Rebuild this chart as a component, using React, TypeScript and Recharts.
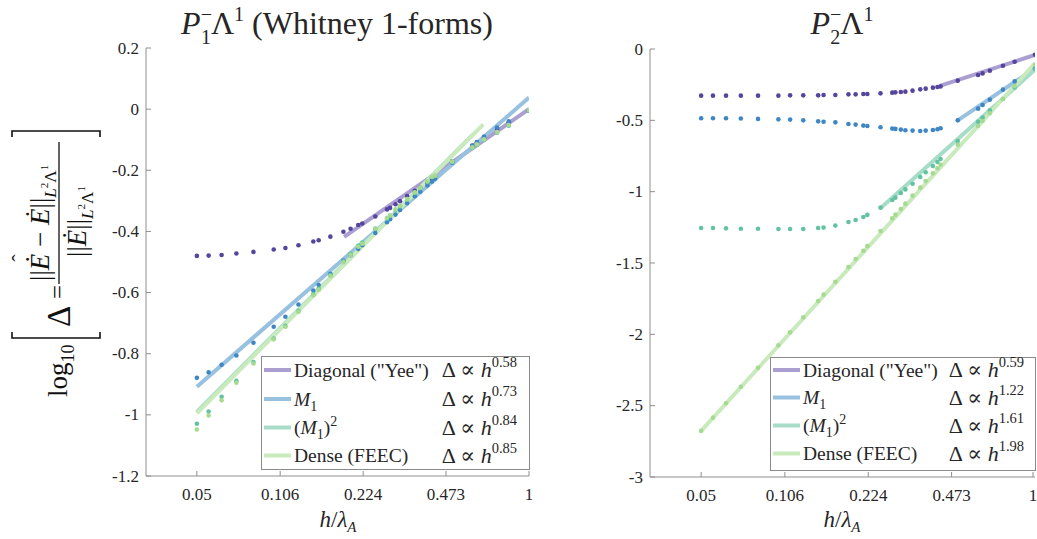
import React from "react";
import { ComposedChart, Line, Scatter, XAxis, YAxis } from "recharts";

const FONT = '"Liberation Serif", "DejaVu Serif", serif';
const AXIS = "#8f8f8f";
const INK = "#262626";

// mesh sizes h / lambda_A (shared by all series)
const hValues = [
  0.05, 0.0556, 0.0625, 0.0714, 0.0833, 0.1, 0.1111, 0.125, 0.1429, 0.15, 0.1667,
  0.1875, 0.2, 0.2143, 0.2222, 0.25, 0.2778, 0.2857, 0.3, 0.3125, 0.3333, 0.3571,
  0.375, 0.4, 0.4167, 0.4286, 0.5, 0.6, 0.625, 0.6667, 0.75, 0.8333, 1,
];

const xTicks = [0.05, 0.106, 0.224, 0.473, 1];
const leftYTicks = [-1.2, -1, -0.8, -0.6, -0.4, -0.2, 0, 0.2];
const rightYTicks = [-3, -2.5, -2, -1.5, -1, -0.5, 0];

// P1- Lambda1 (Whitney 1-forms)
const leftYee = [
  -0.48, -0.479, -0.477, -0.472, -0.467, -0.459, -0.454, -0.445, -0.433, -0.429, -0.417,
  -0.401, -0.391, -0.379, -0.374, -0.351, -0.328, -0.323, -0.311, -0.301, -0.284, -0.267,
  -0.257, -0.241, -0.228, -0.219, -0.171, -0.119, -0.109, -0.094, -0.065, -0.044, -0.003,
];
const leftM1 = [
  -0.879, -0.861, -0.836, -0.806, -0.764, -0.712, -0.679, -0.639, -0.593, -0.575, -0.539,
  -0.495, -0.478, -0.457, -0.445, -0.405, -0.37, -0.36, -0.345, -0.33, -0.308, -0.285,
  -0.27, -0.25, -0.237, -0.228, -0.175, -0.12, -0.108, -0.09, -0.06, -0.04, -0.005,
];
const leftM1Sq = [
  -1.029, -0.989, -0.941, -0.889, -0.827, -0.75, -0.709, -0.66, -0.605, -0.587, -0.543,
  -0.498, -0.473, -0.447, -0.436, -0.392, -0.358, -0.349, -0.33, -0.318, -0.296, -0.274,
  -0.259, -0.238, -0.223, -0.219, -0.173, -0.127, -0.117, -0.101, -0.077, -0.054, -0.005,
];
const leftDense = [
  -1.048, -1.002, -0.952, -0.895, -0.832, -0.753, -0.712, -0.663, -0.609, -0.591, -0.546,
  -0.501, -0.477, -0.45, -0.44, -0.39, -0.356, -0.347, -0.328, -0.316, -0.294, -0.272,
  -0.257, -0.236, -0.221, -0.217, -0.171, -0.125, -0.115, -0.099, -0.075, -0.052, -0.003,
];

// P2- Lambda1
const rightYee = [
  -0.327, -0.327, -0.327, -0.327, -0.327, -0.327, -0.325, -0.325, -0.325, -0.322, -0.322,
  -0.318, -0.318, -0.315, -0.315, -0.311, -0.306, -0.304, -0.301, -0.299, -0.292, -0.283,
  -0.278, -0.271, -0.266, -0.262, -0.222, -0.182, -0.171, -0.152, -0.117, -0.089, -0.04,
];
const rightM1 = [
  -0.485, -0.485, -0.485, -0.487, -0.49, -0.493, -0.495, -0.5, -0.507, -0.51, -0.514,
  -0.526, -0.53, -0.537, -0.54, -0.548, -0.558, -0.56, -0.565, -0.57, -0.572, -0.575,
  -0.572, -0.568, -0.563, -0.556, -0.5, -0.418, -0.392, -0.355, -0.285, -0.227, -0.135,
];
const rightM1Sq = [
  -1.255, -1.255, -1.257, -1.26, -1.26, -1.262, -1.262, -1.262, -1.255, -1.252, -1.238,
  -1.213, -1.199, -1.178, -1.163, -1.112, -1.058, -1.042, -1.009, -0.984, -0.944, -0.897,
  -0.864, -0.82, -0.792, -0.771, -0.645, -0.51, -0.48, -0.43, -0.35, -0.27, -0.14,
];
const rightDense = [
  -2.677, -2.584, -2.483, -2.367, -2.234, -2.077, -1.986, -1.881, -1.766, -1.722, -1.631,
  -1.528, -1.472, -1.414, -1.381, -1.276, -1.187, -1.161, -1.121, -1.084, -1.028, -0.972,
  -0.925, -0.871, -0.836, -0.811, -0.671, -0.54, -0.505, -0.45, -0.35, -0.26, -0.11,
];

// fitted power laws, [h, log10 Delta] at the two ends of each fit
const leftFits = [
  [[0.1886, -0.418], [1, 0.0]],
  [[0.05, -0.908], [1, 0.038]],
  [[0.05, -0.99], [0.6, -0.085]],
  [[0.05, -0.995], [0.662, -0.05]],
];
const rightFits = [
  [[0.4286, -0.257], [1, -0.042]],
  [[0.5, -0.5], [1, -0.135]],
  [[0.25, -1.117], [1, -0.145]],
  [[0.05, -2.677], [1, -0.1]],
];

const leftRates = ["0.58", "0.73", "0.84", "0.85"];
const rightRates = ["0.59", "1.22", "1.61", "1.98"];

const dotColors = ["#55459c", "#3e87c4", "#63c3a1", "#a5db90"];
const lineColors = ["#ab9fd2", "#98c1e0", "#a6dcc8", "#c8eabd"];

const toPts = (vals: number[]) => hValues.map((h, i) => ({ h, v: vals[i] }));
const toFit = (f: number[][]) => f.map(([h, v]) => ({ h, v }));

const XTick = (props: any) => {
  const { x, y, payload } = props;
  return (
    <g>
      <line x1={x} x2={x} y1={y} y2={y - 5} stroke={AXIS} />
      <text x={x} y={y + 24} textAnchor="middle" fontSize={17} fontFamily={FONT} fill={INK}>
        {String(payload.value)}
      </text>
    </g>
  );
};

const YTick = (props: any) => {
  const { x, y, payload } = props;
  return (
    <g>
      <line x1={x} x2={x + 5} y1={y} y2={y} stroke={AXIS} />
      <text x={x - 7} y={y + 5.5} textAnchor="end" fontSize={17} fontFamily={FONT} fill={INK}>
        {String(payload.value)}
      </text>
    </g>
  );
};

const dot = (color: string) => (p: any) => <circle cx={p.cx} cy={p.cy} r={2.3} fill={color} />;

function Panel({ width, margin, yDomain, yTicks, series, fits }: any) {
  return (
    <ComposedChart width={width} height={539} margin={margin}>
      <XAxis
        type="number"
        dataKey="h"
        scale="log"
        domain={[0.0316, 1]}
        allowDataOverflow
        ticks={xTicks}
        tick={<XTick />}
        tickSize={0}
        tickMargin={0}
        height={30}
        axisLine={{ stroke: AXIS }}
      />
      <YAxis
        type="number"
        domain={yDomain}
        allowDataOverflow
        ticks={yTicks}
        tick={<YTick />}
        tickSize={0}
        tickMargin={0}
        width={40}
        axisLine={{ stroke: AXIS }}
      />
      {fits.map((f: number[][], i: number) => (
        <Line
          key={"fit" + i}
          data={toFit(f)}
          dataKey="v"
          type="linear"
          stroke={lineColors[i]}
          strokeWidth={4}
          dot={false}
          activeDot={false}
          isAnimationActive={false}
        />
      ))}
      {series.map((s: number[], i: number) => (
        <Scatter
          key={"s" + i}
          data={toPts(s)}
          dataKey="v"
          shape={dot(dotColors[i])}
          isAnimationActive={false}
        />
      ))}
    </ComposedChart>
  );
}

const legendLabels = [
  <tspan>Diagonal ("Yee")</tspan>,
  <>
    <tspan fontStyle="italic">M</tspan>
    <tspan fontSize={14} dy={5}>1</tspan>
  </>,
  <>
    <tspan>(</tspan>
    <tspan fontStyle="italic">M</tspan>
    <tspan fontSize={14} dy={5}>1</tspan>
    <tspan dy={-5}>)</tspan>
    <tspan fontSize={14} dy={-8}>2</tspan>
  </>,
  <tspan>Dense (FEEC)</tspan>,
];

function LegendBox({ x, y, w, h, rowYs, rates, rightX }: any) {
  return (
    <g fontFamily={FONT} fill={INK}>
      <rect x={x + 0.5} y={y + 0.5} width={w} height={h} fill="#fff" stroke="#8a8a8a" />
      {rowYs.map((ry: number, i: number) => (
        <g key={i}>
          <line x1={x + 3} x2={x + 30} y1={ry} y2={ry} stroke={lineColors[i]} strokeWidth={4} />
          <text x={x + 33} y={ry + 6.5} fontSize={19.5}>
            {legendLabels[i]}
          </text>
          <text x={rightX} y={ry + 7} fontSize={22} textAnchor="end">
            Δ ∝ <tspan fontStyle="italic">h</tspan>
            <tspan fontSize={14.5} dy={-10}>
              {rates[i]}
            </tspan>
          </text>
        </g>
      ))}
    </g>
  );
}

function Title({ cx, sub, rest }: any) {
  return (
    <text x={cx} y={34} textAnchor="middle" fontSize={32} fontFamily={FONT} fill={INK}>
      <tspan fontStyle="italic">P</tspan>
      <tspan fontSize={20} dy={-13}>−</tspan>
      <tspan fontSize={20} dx={-11} dy={23}>
        {sub}
      </tspan>
      <tspan dy={-10}>Λ</tspan>
      <tspan fontSize={20} dy={-13}>1</tspan>
      <tspan dy={13}>{rest}</tspan>
    </text>
  );
}

function XLabel({ cx }: any) {
  return (
    <text x={cx} y={527} textAnchor="middle" fontSize={23} fontFamily={FONT} fill={INK} fontStyle="italic">
      h<tspan fontStyle="normal">/</tspan>λ
      <tspan fontSize={15} dy={5}>
        A
      </tspan>
    </text>
  );
}

// rotated formula: local x runs up the page, local y runs right
function Sub({ dy = 7 }: any) {
  return (
    <>
      <tspan fontSize={17} dy={dy} fontStyle="italic">L</tspan>
      <tspan fontSize={11} dy={-8}>2</tspan>
      <tspan fontSize={17} dy={8}>Λ</tspan>
      <tspan fontSize={11} dy={-8}>1</tspan>
    </>
  );
}

function YLabel() {
  return (
    <g transform="translate(0,400) rotate(-90)" fontFamily={FONT} fill="#111">
      <text x={3} y={67} fontSize={27}>
        log<tspan fontSize={18} dy={7}>10</tspan>
      </text>
      <path d="M68 12 L62 12 L62 100 L68 100" stroke="#111" strokeWidth={1.6} fill="none" />
      <text x={73} y={70} fontSize={33}>
        Δ
      </text>
      <text x={101} y={66} fontSize={25}>
        =
      </text>
      <text x={119} y={49} fontSize={27}>
        ||<tspan fontStyle="italic">{"\u0116"}</tspan> − <tspan fontStyle="italic">{"\u0116"}</tspan>||
        <Sub />
      </text>
      <text x={142} y={27} fontSize={22} textAnchor="middle">
        {"\u02C6"}
      </text>
      <line x1={116} x2={258} y1={59} y2={59} stroke="#111" strokeWidth={1.3} />
      <text x={143} y={86} fontSize={27}>
        ||<tspan fontStyle="italic">{"\u0116"}</tspan>||
        <Sub />
      </text>
      <path d="M263 12 L269 12 L269 100 L263 100" stroke="#111" strokeWidth={1.6} fill="none" />
    </g>
  );
}

export default function App() {
  return (
    <div style={{ position: "absolute", left: 0, top: 0, width: 1037, height: 539, background: "#fff" }}>
      <div style={{ position: "absolute", left: 0, top: 0 }}>
        <Panel
          width={560}
          margin={{ top: 48, right: 31, bottom: 33, left: 106 }}
          yDomain={[-1.2, 0.2]}
          yTicks={leftYTicks}
          series={[leftYee, leftM1, leftM1Sq, leftDense]}
          fits={leftFits}
        />
      </div>
      <div style={{ position: "absolute", left: 560, top: 0 }}>
        <Panel
          width={477}
          margin={{ top: 49, right: 2, bottom: 32, left: 50 }}
          yDomain={[-3, 0]}
          yTicks={rightYTicks}
          series={[rightYee, rightM1, rightM1Sq, rightDense]}
          fits={rightFits}
        />
      </div>
      <svg
        width={1037}
        height={539}
        style={{ position: "absolute", left: 0, top: 0, pointerEvents: "none" }}
      >
        <Title cx={337} sub="1" rest=" (Whitney 1-forms)" />
        <Title cx={842} sub="2" rest="" />
        <XLabel cx={338} />
        <XLabel cx={842} />
        <YLabel />
        <LegendBox x={261} y={356} w={268} h={113} rowYs={[370, 399, 427.5, 455.5]} rates={leftRates} rightX={517} />
        <LegendBox x={770} y={357} w={265} h={113} rowYs={[370, 397.5, 425.5, 453.5]} rates={rightRates} rightX={1024} />
      </svg>
    </div>
  );
}
